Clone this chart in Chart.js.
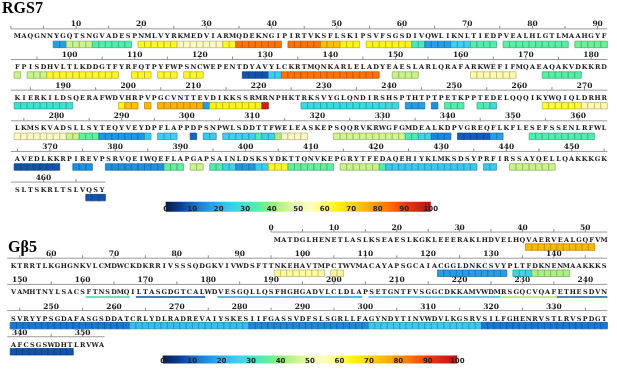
<!DOCTYPE html>
<html>
<head>
<meta charset="utf-8">
<title>RGS7 / Gβ5</title>
<script src="https://cdn.jsdelivr.net/npm/chart.js@4.4.1/dist/chart.umd.min.js"></script>
<style>
  html, body { margin: 0; padding: 0; background: #fff; }
  canvas { display: block; }
</style>
</head>
<body>
<canvas id="seqChart" width="617" height="370"></canvas>
<script>
// sequences, one string per printed row
const rgs7Rows = [
  'MAQGNNYGQTSNGVADESPNMLVYRKMEDVIARMQDEKNGIPIRTVKSFLSKIPSVFSGSDIVQWLIKNLTIEDPVEALHLGTLMAAHGYF',
  'FPISDHVLTLKDDGTFYRFQTPYFWPSNCWEPENTDYAVYLCKRTMQNKARLELADYEAESLARLQRAFARKWEFIFMQAEAQAKVDKKRD',
  'KIERKILDSQERAFWDVHRPVPGCVNTTEVDIKKSSRMRNPHKTRKSVYGLQNDIRSHSPTHTPTPETKPPTEDELQQQIKYWQIQLDRHR',
  'LKMSKVADSLLSYTEQYVEYDPFLAPPDPSNPWLSDDTTFWELEASKEPSQQRVKRWGFGMDEALKDPVGREQFLKFLESEFSSENLRFWL',
  'AVEDLKKRPIREVPSRVQEIWQEFLAPGAPSAINLDSKSYDKTTQNVKEPGRYTFEDAQEHIYKLMKSDSYPRFIRSSAYQELLQAKKKGK',
  'SLTSKRLTSLVQSY'
];
const gb5Rows = [
  'MATDGLHENETLASLKSEAESLKGKLEEERAKLHDVELHQVAERVEALGQFVM',
  'KTRRTLKGHGNKVLCMDWCKDKRRIVSSSQDGKVIVWDSFTTNKEHAVTMPCTWVMACAYAPSGCAIACGGLDNKCSVYPLTFDKNENMAAKKKS',
  'VAMHTNYLSACSFTNSDMQILTASGDGTCALWDVESGQLLQSFHGHGADVLCLDLAPSETGNTFVSGGCDKKAMVWDMRSGQCVQAFETHESDVN',
  'SVRYYPSGDAFASGSDDATCRLYDLRADREVAIYSKESIIFGASSVDFSLSGRLLFAGYNDYTINVWDVLKGSRVSILFGHENRVSTLRVSPDGT',
  'AFCSGSWDHTLRVWA'
];

// coloured boxes: [first residue, last residue, score 0-100]
const rgs7Boxes = [
  [7, 8, 17], [9, 12, 45], [13, 18, 34], [20, 25, 63], [26, 32, 55], [33, 34, 63], [35, 41, 84],
  [43, 47, 84], [48, 50, 74], [51, 53, 64], [55, 61, 64], [62, 63, 32], [64, 67, 17], [68, 70, 25],
  [71, 74, 34], [76, 85, 35], [87, 91, 37],
  [92, 92, 45], [94, 96, 45], [97, 107, 63], [110, 112, 63], [114, 116, 63], [118, 120, 63],
  [127, 130, 8], [131, 132, 25], [133, 147, 84], [150, 153, 45], [162, 168, 56], [173, 178, 35],
  [183, 191, 29], [199, 199, 64], [200, 201, 74], [203, 203, 75], [205, 211, 76], [212, 212, 17],
  [213, 220, 64], [221, 221, 96], [227, 241, 27], [243, 245, 17], [247, 247, 15], [249, 251, 34],
  [254, 255, 33], [256, 256, 27], [264, 269, 62], [270, 273, 56],
  [274, 281, 55], [282, 283, 45], [284, 286, 36], [287, 293, 16], [294, 294, 24], [296, 298, 25],
  [301, 301, 10], [303, 304, 24], [306, 310, 25], [311, 311, 33], [312, 313, 25], [314, 314, 42],
  [315, 318, 55], [323, 333, 46], [334, 335, 33], [336, 337, 26], [338, 340, 14], [342, 346, 9],
  [347, 348, 17], [353, 362, 34],
  [365, 371, 8], [374, 376, 15], [379, 387, 15], [388, 390, 36], [392, 393, 45], [395, 396, 34],
  [397, 398, 26], [399, 401, 16], [402, 403, 25], [404, 406, 63], [407, 413, 36], [415, 420, 45],
  [421, 421, 34], [422, 435, 24], [437, 438, 24], [441, 447, 45],
  [467, 469, 8]
];
const gb5Boxes = [
  [41, 51, 75],
  [96, 103, 57], [105, 106, 57], [122, 132, 17], [134, 136, 26], [137, 142, 42],
  [244, 262, 12], [263, 281, 22], [282, 300, 14], [301, 318, 24], [319, 338, 12],
  [339, 348, 8]
];
// Gβ5 stretch marked with underlines instead of boxes
const gb5Lines = [
  [161, 167, 33], [169, 179, 8], [182, 204, 20], [206, 226, 27], [227, 235, 45], [236, 243, 10]
];

const rgs7Ticks = [];
for (let v = 10; v <= 469; v += 10) rgs7Ticks.push(v);
const gb5Ticks = [];
for (let v = 0; v <= 353; v += 10) gb5Ticks.push(v);
const colorbarTicks = [0, 10, 20, 30, 40, 50, 60, 70, 80, 90, 100];

// colour scale of the scores
const cmapStops = [0, 5, 10, 15, 20, 25, 30, 35, 40, 45, 50, 55, 60, 65, 70, 75, 80, 85, 90, 95, 100];
const cmapColors = ['#081d4a', '#0b3a8a', '#1366c8', '#1e90e2', '#2ab4f0', '#3ccfee', '#3ee6cc',
  '#55f0a6', '#92f07a', '#c9f48a', '#eefab4', '#fffbc0', '#ffff66', '#fff200', '#ffd800',
  '#ffb800', '#ff9400', '#ff6a00', '#f03c10', '#d82414', '#b81010'];

const W = 617, H = 370;

function hexRgb(h) {
  const n = parseInt(h.slice(1), 16);
  return [n >> 16 & 255, n >> 8 & 255, n & 255];
}
function scoreRgb(v) {
  v = Math.max(0, Math.min(100, v));
  let i = 0;
  while (i < cmapStops.length - 2 && v > cmapStops[i + 1]) i++;
  const t = (v - cmapStops[i]) / (cmapStops[i + 1] - cmapStops[i]);
  const a = hexRgb(cmapColors[i]), b = hexRgb(cmapColors[i + 1]);
  return a.map((x, k) => Math.round(x + (b[k] - x) * t));
}
const rgbStr = (c, f) => 'rgb(' + c.map(x => Math.round(x * (f || 1))).join(',') + ')';

const panels = [
  { title: 'RGS7', titleX: 2, titleY: 9, rows: rgs7Rows, firstCol: 0, boxes: rgs7Boxes, lines: [], ticks: rgs7Ticks,
    x: 'xr', y: 'yr', x0: 12, dx: 6.64, y0: 40, pitch: 31.6,
    letterDy: -8, axisDy: -16, labelDy: -20.5, underDy: -3,
    cb: { id: 'cb1', from: 163, to: 433, dy: 9.5, width: 10, labelDy: 11.5 } },
  { title: 'Gβ5', titleX: 8, titleY: 248, rows: gb5Rows, firstCol: 42, boxes: gb5Boxes, lines: gb5Lines, ticks: gb5Ticks,
    x: 'xg', y: 'yg', x0: 8, dx: 6.4, y0: 249, pitch: 27,
    letterDy: -7, axisDy: -15.5, labelDy: -19.5, underDy: -2.5,
    cb: { id: 'cb2', from: 160, to: 460, dy: 8, width: 8, labelDy: 10 } }
];

panels.forEach(p => {
  p.cells = [];
  p.rowInfo = p.rows.map((s, i) => {
    const first = i === 0 ? p.firstCol : 0;
    for (let k = 0; k < s.length; k++) {
      p.cells.push({ res: p.cells.length + 1, letter: s[k], row: i, col: first + k });
    }
    return { first: first, last: first + s.length - 1 };
  });
});

function posOf(p, v) {
  let q = null;
  if (v >= 1 && v <= p.cells.length) q = p.cells[v - 1];
  else if (v < 1) q = { row: 0, col: p.firstCol + v - 1 };
  if (!q) return null;
  const ri = p.rowInfo[q.row];
  if (q.col < ri.first - 1 || q.col > ri.last + 0.5) return null;
  return q;
}

function barGradient(chart, p) {
  const s = chart.scales[p.cb.id];
  if (!s) return '#888';
  const x0 = s.getPixelForValue(0), x1 = s.getPixelForValue(100);
  if (!isFinite(x0) || !isFinite(x1) || x0 === x1) return '#888';
  const g = chart.ctx.createLinearGradient(x0, 0, x1, 0);
  cmapStops.forEach((v, i) => g.addColorStop(v / 100, cmapColors[i]));
  return g;
}

const datasets = [];
const scales = {};

panels.forEach(p => {
  scales[p.x] = { type: 'linear', display: false, min: -p.x0 / p.dx, max: (W - p.x0) / p.dx };
  scales[p.y] = { type: 'linear', display: false, reverse: true, min: -p.y0 / p.pitch, max: (H - p.y0) / p.pitch };
  const k = (p.cb.to - p.cb.from) / 100;
  scales[p.cb.id] = { axis: 'x', type: 'linear', display: false, min: -p.cb.from / k, max: (W - p.cb.from) / k };

  // ruler line above every printed row
  p.rowInfo.forEach((ri, i) => {
    const y = i + p.axisDy / p.pitch;
    datasets.push({
      type: 'line', xAxisID: p.x, yAxisID: p.y,
      data: [{ x: ri.first - 1, y: y }, { x: ri.last + 0.5, y: y }],
      borderColor: '#9a9a9a', borderWidth: 1, pointRadius: 0
    });
  });

  // small tick every 5 residues
  const tickPts = [];
  for (let v = 0; v <= p.cells.length; v += 5) {
    const q = posOf(p, v);
    if (q) tickPts.push({ x: q.col, y: q.row + (p.axisDy - 1.5) / p.pitch });
  }
  datasets.push({
    xAxisID: p.x, yAxisID: p.y, data: tickPts,
    pointStyle: 'line', rotation: 90, radius: 1.5, borderColor: '#8a8a8a', borderWidth: 1
  });

  // colour bar
  const lastRow = p.rows.length - 1;
  const cbY = lastRow + p.cb.dy / p.pitch;
  datasets.push({
    type: 'line', xAxisID: p.cb.id, yAxisID: p.y,
    data: [{ x: 0, y: cbY }, { x: 100, y: cbY }],
    borderWidth: p.cb.width, borderCapStyle: 'butt', pointRadius: 0,
    borderColor: ctx => barGradient(ctx.chart, p)
  });

  // scored residues as boxes
  const boxPts = [];
  p.boxes.forEach(([a, b, v]) => {
    for (let r = a; r <= b; r++) {
      const c = p.cells[r - 1];
      if (c) boxPts.push({ x: c.col, y: c.row, v: v });
    }
  });
  datasets.push({
    xAxisID: p.x, yAxisID: p.y, data: boxPts,
    pointStyle: 'rect', radius: 4.6, borderWidth: 0.7,
    backgroundColor: ctx => rgbStr(scoreRgb(ctx.raw ? ctx.raw.v : 0)),
    borderColor: ctx => rgbStr(scoreRgb(ctx.raw ? ctx.raw.v : 0), 0.7)
  });

  // scored residues as underlines
  const linePts = [];
  p.lines.forEach(([a, b, v]) => {
    for (let r = a; r <= b; r++) {
      const c = p.cells[r - 1];
      if (c) linePts.push({ x: c.col, y: c.row + p.underDy / p.pitch, v: v });
    }
  });
  if (linePts.length) {
    datasets.push({
      xAxisID: p.x, yAxisID: p.y, data: linePts,
      pointStyle: 'line', radius: 3.25, borderWidth: 1.6,
      borderColor: ctx => rgbStr(scoreRgb(ctx.raw ? ctx.raw.v : 0), 0.9)
    });
  }
});

const seqText = {
  id: 'seqText',
  afterDatasetsDraw(chart) {
    const g = chart.ctx;
    g.save();
    panels.forEach(p => {
      const xs = chart.scales[p.x], ys = chart.scales[p.y], cs = chart.scales[p.cb.id];
      g.textAlign = 'center';
      g.textBaseline = 'middle';
      g.fillStyle = '#1b1b1b';
      g.font = 'bold 6.5px "DejaVu Serif"';
      p.cells.forEach(c => {
        g.fillText(c.letter, xs.getPixelForValue(c.col), ys.getPixelForValue(c.row + p.letterDy / p.pitch));
      });
      g.font = 'bold 7.5px "DejaVu Serif"';
      p.ticks.forEach(v => {
        const q = posOf(p, v);
        if (q) g.fillText(String(v), xs.getPixelForValue(q.col), ys.getPixelForValue(q.row + p.labelDy / p.pitch));
      });
      const lastRow = p.rows.length - 1;
      g.font = 'bold 7px "DejaVu Sans"';
      g.fillStyle = '#222';
      colorbarTicks.forEach(v => {
        g.fillText(String(v), cs.getPixelForValue(v), ys.getPixelForValue(lastRow + p.cb.labelDy / p.pitch));
      });
      g.textAlign = 'left';
      g.fillStyle = '#000';
      g.font = 'bold 16px "Liberation Serif"';
      g.fillText(p.title, p.titleX, p.titleY);
    });
    g.restore();
  }
};

new Chart(document.getElementById('seqChart'), {
  type: 'scatter',
  data: { datasets: datasets },
  options: {
    responsive: false,
    animation: false,
    events: [],
    layout: { padding: 0 },
    plugins: { legend: { display: false }, tooltip: { enabled: false } },
    scales: scales
  },
  plugins: [seqText]
});
</script>
</body>
</html>
